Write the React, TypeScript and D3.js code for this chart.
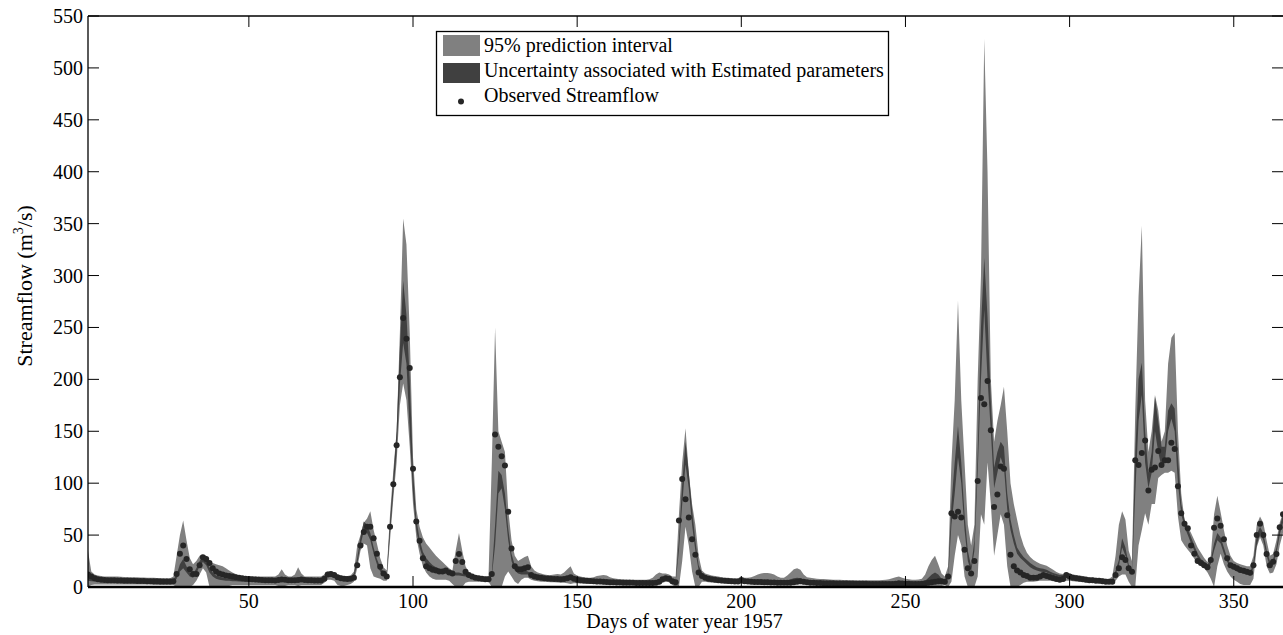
import React from 'react';
import * as d3 from 'd3';

// Day index of the water year
const days: number[] = d3.range(1, 366);

const xTicks = [50, 100, 150, 200, 250, 300, 350];
const yTicks = [0, 50, 100, 150, 200, 250, 300, 350, 400, 450, 500, 550];

const legendLabels = [
  '95% prediction interval',
  'Uncertainty associated with Estimated parameters',
  'Observed Streamflow',
];

// Observed streamflow (m3/s)
const observed = [
  12, 10, 8.5, 7.5, 7, 6.8, 6.6, 6.5, 6.4, 6.3,
  6.2, 6.1, 6, 6, 5.9, 5.8, 5.8, 5.7, 5.6, 5.6,
  5.5, 5.5, 5.4, 5.4, 5.3, 5.3, 5.5, 12.5, 32, 40,
  27, 17, 12.5, 12.5, 21, 28.6, 27, 23, 18, 15,
  13, 12, 11, 10.5, 10, 9.5, 9, 8.5, 8, 7.8,
  7.5, 7.3, 7, 6.8, 6.6, 6.5, 6.4, 6.3, 6.8, 7.2,
  7, 6.6, 6.5, 6.4, 6.8, 7.2, 6.8, 6.5, 6.4, 6.3,
  6.2, 6.2, 8, 12, 12.5, 11.5, 9.5, 8.5, 8, 7.8,
  8, 9, 21, 40, 53, 58, 58, 47, 32, 19.6,
  13, 10, 58, 99, 136.5, 202, 259, 239, 211, 114,
  63, 44.6, 27.6, 20, 18, 16.6, 16, 15, 15, 16,
  14, 13, 25, 31.7, 24, 14.7, 11.5, 10, 9, 8.5,
  8, 7.5, 7.5, 12.5, 147, 135, 126, 117, 72.5, 37,
  20, 17, 17, 18, 19, 11.5, 10, 9.5, 9, 8.5,
  8.2, 8, 7.8, 7.6, 7.5, 7.8, 8.5, 9.5, 8, 7,
  6.6, 6.3, 6, 5.8, 5.6, 5.4, 5.2, 5, 4.8, 4.6,
  4.5, 4.4, 4.3, 4.2, 4.1, 4, 4, 3.9, 3.9, 3.8,
  3.8, 3.8, 3.8, 4, 5, 7.5, 8.5, 8, 5.5, 4.5,
  64, 104, 84.5, 67, 46, 31, 14, 10.5, 9, 8,
  7.5, 7, 6.6, 6.3, 6, 5.8, 5.6, 5.4, 5.3, 6.5,
  5.5, 5.2, 5, 4.9, 4.8, 4.7, 4.6, 4.5, 4.4, 4.3,
  4.2, 4.1, 4, 4, 4.2, 4.5, 5, 5.5, 5, 4.5,
  4.2, 4, 3.9, 3.8, 3.7, 3.6, 3.5, 3.5, 3.4, 3.4,
  3.3, 3.3, 3.2, 3.2, 3.2, 3.1, 3.1, 3.1, 3, 3,
  3, 3, 3, 3, 3, 3, 3.2, 3.5, 3.3, 3.2,
  3.1, 3, 3, 3, 3.2, 3.5, 4, 4.5, 5, 5.5,
  5.5, 5, 10, 71, 68, 72.5, 67, 36, 18, 13,
  25, 102, 182, 176, 198.5, 151, 77, 89, 116, 114,
  69, 31, 20, 16, 14, 11.5, 10.6, 9, 9, 9,
  10, 11.5, 10.6, 9.6, 8.7, 7.7, 7, 7.7, 11.5, 10,
  9, 8.5, 8, 7.5, 7, 6.5, 6.5, 6, 6, 5.5,
  5, 5, 5, 11.5, 18, 28.6, 26, 18, 14.7, 122,
  117.5, 129, 141, 93, 113, 115, 131, 117.5, 122, 122,
  139, 133, 97, 71, 61, 56.5, 40, 32, 25, 23,
  21, 19, 26, 57, 66, 59, 46, 27.6, 21, 19.6,
  18, 16.4, 15.7, 14.7, 13.8, 21, 50, 61, 50, 31.8,
  21, 24.4, 31.8, 57.5, 70,
];

// Uncertainty associated with estimated parameters: lower bound
const paramLower = [
  6, 5.5, 5.2, 5, 4.9, 4.9, 4.8, 4.8, 4.8, 4.8,
  4.8, 4.7, 4.7, 4.7, 4.6, 4.6, 4.6, 4.5, 4.5, 4.5,
  4.5, 4.5, 4.4, 4.4, 4.4, 4.4, 4.5, 8, 15, 18,
  14, 10, 9, 13, 20, 24, 21, 14, 10, 8,
  7, 6.5, 6, 6, 5.5, 5.5, 5.2, 5, 5, 5,
  5, 5, 5, 5, 5, 5, 5, 5, 5.5, 5.5,
  5.5, 5, 5, 5, 5.5, 5.5, 5.5, 5, 5, 5,
  5, 5, 7, 10, 10, 9, 7, 6, 6, 6,
  7, 9, 22, 40, 54, 52, 45, 32, 22, 15,
  12, 11, 52, 92, 130, 195, 235, 215, 150, 90,
  55, 38, 28, 22, 19, 17, 15.5, 14.5, 13.5, 13,
  12, 11.5, 11, 11, 10.5, 10, 9.5, 9, 8.5, 8,
  7.5, 7.5, 7.5, 10, 40, 90, 95, 75, 45, 25,
  16, 13, 12, 12, 12, 10, 9.5, 9, 8.5, 8,
  7.5, 7.3, 7, 7, 7, 7.2, 7.5, 8, 7, 6.5,
  5.8, 5.5, 5.3, 5.1, 4.9, 4.7, 4.5, 4.4, 4.2, 4,
  3.9, 3.8, 3.7, 3.6, 3.5, 3.4, 3.4, 3.3, 3.3, 3.2,
  3.2, 3.2, 3.2, 3.5, 4.5, 6.5, 7.5, 7, 5, 4,
  35, 80, 118, 95, 60, 35, 16, 10, 8.5, 7.5,
  7, 6.6, 6.2, 5.9, 5.6, 5.4, 5.2, 5, 4.9, 5.5,
  5, 4.7, 4.5, 4.4, 4.3, 4.2, 4.1, 4, 3.9, 3.8,
  3.7, 3.6, 3.6, 3.8, 4, 4.3, 4.5, 4.7, 4.4, 4,
  3.8, 3.6, 3.5, 3.4, 3.3, 3.2, 3.1, 3.1, 3, 3,
  2.9, 2.9, 2.8, 2.8, 2.8, 2.7, 2.7, 2.7, 2.6, 2.6,
  2.6, 2.6, 2.6, 2.6, 2.6, 2.7, 2.9, 3.1, 3, 2.9,
  2.8, 2.7, 2.7, 2.7, 2.9, 3.3, 4.5, 6, 7, 6,
  5, 4.5, 8, 60, 90, 125, 100, 55, 25, 15,
  35, 110, 200, 267, 200, 150, 95, 110, 125, 115,
  75, 55, 42, 32, 28, 25, 22, 19, 17, 16,
  15, 14.5, 14, 12.5, 11.5, 10.5, 9.5, 9.5, 10, 9.5,
  8.5, 8, 7.6, 7.2, 6.8, 6.4, 6.2, 5.9, 5.7, 5.4,
  5, 4.9, 5, 12, 20, 38, 30, 18, 12, 90,
  160, 185, 120, 95, 110, 150, 130, 115, 120, 150,
  162, 150, 100, 70, 58, 50, 42, 35, 28, 24,
  21, 19, 22, 35, 45, 42, 32, 24, 19, 17,
  15, 14, 13, 12, 11, 18, 40, 52, 45, 30,
  20, 22, 32, 50, 62,
];

// Uncertainty associated with estimated parameters: upper bound
const paramUpper = [
  15, 10, 9, 8.5, 8, 8, 7.8, 7.6, 7.5, 7.4,
  7.2, 7.1, 7, 7, 6.9, 6.8, 6.8, 6.7, 6.6, 6.6,
  6.5, 6.5, 6.5, 6.5, 6.5, 6.5, 7, 12, 22, 27,
  20, 14, 12, 18, 25, 29, 26, 19, 14, 11,
  10, 9, 8.5, 8, 8, 7.5, 7.2, 7, 7, 7,
  7, 7, 7, 7, 7, 7, 7, 7, 8, 8,
  8, 7, 7, 7, 8, 8, 8, 7, 7, 7,
  7, 7, 10, 14, 14, 12, 10, 8.5, 8, 8,
  9.5, 13, 28, 48, 63, 60, 52, 38, 27, 19,
  15, 14, 62, 105, 150, 230, 295, 262, 200, 112,
  66, 46, 34, 28, 24, 21, 19, 17.5, 16.5, 15.5,
  14.5, 14, 14, 14, 13, 12.5, 12, 11, 10.5, 10,
  9.5, 9.5, 9.5, 14, 60, 112, 108, 90, 56, 32,
  21, 17, 16, 16, 15, 13, 12, 11.5, 11, 10.5,
  10, 9.8, 9.5, 9.3, 9.2, 9.6, 10, 11, 9.5, 8.8,
  7.6, 7.3, 7, 6.8, 6.6, 6.4, 6.2, 6.1, 5.9, 5.7,
  5.6, 5.5, 5.4, 5.3, 5.2, 5.1, 5, 5, 4.9, 4.9,
  4.8, 4.8, 4.9, 5.3, 6.5, 9, 10, 9.5, 7, 6,
  46, 100, 140, 110, 75, 45, 21, 13.5, 11, 9.5,
  9, 8.5, 8, 7.6, 7.3, 7, 6.8, 6.6, 6.5, 7.5,
  6.8, 6.4, 6.2, 6.2, 6.5, 6.8, 7, 7, 6.8, 6.3,
  5.8, 5.5, 5.6, 6.5, 7.5, 8.5, 9, 8.5, 7, 6,
  5.6, 5.4, 5.2, 5.1, 5, 4.9, 4.8, 4.7, 4.6, 4.6,
  4.5, 4.5, 4.4, 4.4, 4.4, 4.3, 4.3, 4.3, 4.2, 4.2,
  4.2, 4.2, 4.2, 4.2, 4.2, 4.4, 4.8, 5, 4.8, 4.6,
  4.5, 4.4, 4.4, 4.4, 4.8, 6, 9, 12, 14, 12,
  8, 7.5, 12, 80, 120, 155, 120, 70, 35, 20,
  45, 130, 250, 317, 260, 180, 115, 130, 140, 135,
  90, 65, 50, 38, 33, 29, 26, 23, 21, 19,
  18, 17.5, 16.5, 15, 13.5, 12.5, 11.5, 11.5, 12.5, 11.5,
  10.5, 10, 9.5, 9, 8.6, 8.2, 8, 7.6, 7.4, 7.1,
  6.8, 6.6, 7, 16, 26, 47, 38, 22, 15, 130,
  200, 216, 150, 110, 130, 183, 160, 135, 135, 170,
  177, 172, 125, 80, 65, 56, 48, 40, 32, 27,
  24, 22, 26, 42, 52, 48, 38, 28, 22, 20,
  18, 17, 16, 15, 14, 24, 50, 58, 52, 36,
  25, 27, 38, 58, 70,
];

// 95% prediction interval: lower bound
const predLower = [
  0, 2, 2.5, 2.5, 2.5, 2.5, 2.5, 2.5, 2.5, 2.5,
  2.5, 2.5, 2.5, 2.5, 2.5, 2.5, 2.5, 2.5, 2.5, 2.5,
  2, 2, 2, 2, 2, 2, 2, 0, 0, 0,
  0, 0, 2, 6, 12, 18, 14, 0, 0, 0,
  0, 0, 0, 1, 2, 2, 2, 2, 2, 2,
  2, 2, 2, 2, 2, 2, 2, 2, 1, 0,
  1, 2, 2, 2, 1, 2, 2, 2, 2, 2,
  2, 2, 4, 7, 7, 6, 2, 1, 1, 2,
  3, 5, 18, 35, 42, 40, 18, 10, 9, 8,
  6, 6, 45, 85, 120, 175, 196, 180, 135, 80,
  48, 32, 20, 14, 10, 8, 7, 7, 7, 7,
  6, 3, 0, 0, 0, 4, 5, 5, 5, 5,
  5, 5, 5, 0, 0, 0, 0, 10, 15, 10,
  5, 3, 7, 9, 9, 7, 6, 5.5, 5, 5,
  4.8, 4.6, 4.5, 4.3, 4, 4, 3.5, 3, 3.5, 3.5,
  3.3, 3.1, 3, 2.9, 2.8, 2.7, 2.6, 2.5, 2.4, 2.3,
  2.2, 2.1, 2, 2, 2, 2, 2, 2, 2, 2,
  2, 2, 2, 2, 2.5, 4, 5, 4.5, 2, 0,
  0, 25, 58, 40, 15, 0, 0, 5, 5, 4.5,
  4.3, 4, 3.8, 3.6, 3.4, 3.2, 3.1, 3, 3, 3.3,
  3, 2.8, 2.7, 2.6, 2.5, 2.4, 2.3, 2.3, 2.2, 2.2,
  2.1, 2, 2, 2.1, 2.2, 2.4, 2.6, 2.7, 2.5, 2.3,
  2.2, 2.1, 2, 2, 1.9, 1.9, 1.8, 1.8, 1.8, 1.7,
  1.7, 1.7, 1.6, 1.6, 1.6, 1.6, 1.5, 1.5, 1.5, 1.5,
  1.5, 1.5, 1.5, 1.5, 1.5, 1.5, 1.6, 1.8, 1.7, 1.6,
  1.5, 1.5, 1.5, 1.5, 1.5, 0, 0, 0, 0, 0,
  1, 2, 0, 5, 30, 50, 40, 10, 0, 0,
  0, 10, 70, 60, 120, 80, 30, 50, 70, 60,
  20, 0, 0, 0, 2, 4, 5, 5, 5, 5.5,
  6, 6, 6, 6, 5.5, 5, 5, 5, 6, 6,
  5.5, 5.2, 5, 4.7, 4.4, 4.2, 4, 3.8, 3.6, 3.5,
  3.3, 3.2, 3, 6, 10, 12, 12, 5, 0, 0,
  40, 55, 71, 60, 80, 80, 105, 108, 110, 110,
  112, 110, 68, 45, 40, 36, 32, 27, 23, 20,
  18, 14, 8, 0, 20, 32, 22, 15, 10, 7,
  5, 3, 2, 2, 2, 8, 38, 48, 40, 20,
  13, 14, 22, 40, 52,
];

// 95% prediction interval: upper bound
const predUpper = [
  35, 15, 12, 11, 10.5, 10, 10, 10, 10, 10,
  9.8, 9.7, 9.6, 9.5, 9.4, 9.3, 9.2, 9.1, 9, 9,
  8.8, 8.7, 8.6, 8.5, 8.5, 8.5, 10, 30, 50, 64,
  45, 28, 22, 25, 30, 31, 30, 25, 23, 22,
  21, 20, 18, 16, 14, 12.5, 11, 10.5, 10, 10,
  10, 10, 10, 10, 10, 10, 10, 10, 12, 17,
  12, 10, 10, 12, 19, 13, 10, 10, 10, 10,
  10, 10, 12, 15, 15, 14, 12, 11, 10.5, 10.5,
  11, 15, 40, 50, 62, 66, 73, 55, 42, 28,
  19, 16, 70, 112, 150, 245, 355, 330, 245, 125,
  75, 58, 48, 42, 38, 34, 30, 27, 24, 21,
  18, 16, 35, 52, 35, 20, 14, 12, 11, 10,
  10, 10, 10.5, 120, 250, 150, 140, 130, 75, 45,
  30, 25, 27, 29, 30, 20, 16, 14, 13, 12,
  11.5, 11.5, 12, 12.5, 12, 14, 17, 20, 13, 11,
  10, 9.5, 9, 9, 9.5, 10.5, 11, 11.5, 11, 9.5,
  8.5, 8, 7.5, 7.4, 7.3, 7.2, 7.1, 7, 7, 7,
  7, 7.5, 9, 12, 14, 13, 13, 12, 10, 10,
  70, 120, 153, 110, 80, 60, 30, 16, 13, 12,
  11, 10.5, 10, 9.5, 9, 9, 8.5, 8.5, 8.5, 10,
  9, 9, 9.5, 10.5, 12, 13, 13.5, 13.5, 13, 12,
  10, 9, 9, 11, 14, 17, 18, 16.5, 12, 9.5,
  9, 8.5, 8, 7.8, 7.6, 7.4, 7.2, 7, 7, 7,
  6.8, 6.8, 6.7, 6.7, 6.6, 6.6, 6.5, 6.5, 6.5, 6.5,
  6.5, 6.5, 6.7, 7, 7.5, 8.5, 9.5, 10, 9, 8,
  7.5, 7, 7, 7.2, 8, 12, 20, 26, 30, 22,
  13, 10, 20, 120, 180, 276, 180, 120, 60, 40,
  60, 200, 300, 528, 400, 200, 140, 160, 175, 193,
  150, 100, 80, 65, 50, 40, 33, 29, 26, 24,
  22.5, 21.5, 20.5, 18.5, 16.5, 14.5, 13, 12.5, 14, 13,
  12, 11.5, 11, 10.5, 10, 9.5, 9.2, 9, 8.7, 8.4,
  8, 7.8, 10, 30, 60, 73, 65, 35, 25, 170,
  280, 348, 180, 130, 150, 185, 170, 140, 150, 215,
  240, 245, 150, 90, 65, 58, 52, 45, 38, 33,
  28, 24, 30, 70, 88, 72, 55, 40, 30, 25,
  23, 22, 21, 20, 20, 30, 60, 68, 62, 45,
  30, 32, 45, 62, 72,
];

const FONT = '"Liberation Serif", "Times New Roman", Times, serif';
const PRED_COLOR = '#808080';
const PARAM_COLOR = '#404040';
const DOT_COLOR = '#262626';

export default function App() {
  const W = 1283;
  const H = 635;
  const left = 88;
  const right = 1283;
  const top = 16;
  const bottom = 587;

  const x = d3.scaleLinear().domain([1, 365]).range([left, right]);
  const y = d3.scaleLinear().domain([0, 550]).range([bottom, top]);

  const bandPath = (lo: number[], hi: number[]) =>
    d3
      .area<number>()
      .x((_, i) => x(days[i]))
      .y0((_, i) => y(lo[i]))
      .y1((_, i) => y(hi[i]))(days) || '';

  const tickLen = 11;

  return (
    <div style={{ position: 'absolute', left: 0, top: 0 }}>
      <svg width={W} height={H} style={{ display: 'block', background: '#fff' }} fontFamily={FONT}>
        <defs>
          <clipPath id="plotClip">
            <rect x={left} y={top} width={right - left + 2} height={bottom - top} />
          </clipPath>
        </defs>
        <g clipPath="url(#plotClip)">
          <path d={bandPath(predLower, predUpper)} fill={PRED_COLOR} />
          <path d={bandPath(paramLower, paramUpper)} fill={PARAM_COLOR} />
          {days.map((d, i) => (
            <circle key={d} cx={x(d)} cy={y(observed[i])} r={3} fill={DOT_COLOR} />
          ))}
        </g>

        {/* frame */}
        <line x1={left} x2={left} y1={top} y2={bottom} stroke="#000" strokeWidth={1.3} />
        <line x1={left} x2={W} y1={top} y2={top} stroke="#000" strokeWidth={1.3} />
        <line x1={left} x2={W} y1={bottom} y2={bottom} stroke="#000" strokeWidth={2.6} />

        {/* x ticks */}
        {xTicks.map((t) => (
          <g key={`xt${t}`}>
            <line x1={x(t)} x2={x(t)} y1={bottom} y2={bottom - tickLen} stroke="#000" strokeWidth={1} />
            <line x1={x(t)} x2={x(t)} y1={top} y2={top + tickLen} stroke="#000" strokeWidth={1} />
            <text x={x(t)} y={608} textAnchor="middle" fontSize={20} fill="#000">
              {t}
            </text>
          </g>
        ))}

        {/* y ticks */}
        {yTicks.map((t) => (
          <g key={`yt${t}`}>
            <line x1={left} x2={left + tickLen} y1={y(t)} y2={y(t)} stroke="#000" strokeWidth={1} />
            <line x1={right - tickLen} x2={W} y1={y(t)} y2={y(t)} stroke="#000" strokeWidth={1} />
            <text x={83} y={y(t) + 7} textAnchor="end" fontSize={20} fill="#000">
              {t}
            </text>
          </g>
        ))}

        {/* axis titles */}
        <text x={(left + right) / 2 - 1} y={628} textAnchor="middle" fontSize={20} fill="#000">
          Days of water year 1957
        </text>
        <text
          transform="translate(32,286) rotate(-90)"
          textAnchor="middle"
          fontSize={22}
          fill="#000"
        >
          Streamflow (m<tspan fontSize={14} dy={-9}>3</tspan>
          <tspan dy={9}>/s)</tspan>
        </text>

        {/* legend */}
        <g>
          <rect x={436.5} y={31.5} width={452} height={84} fill="#fff" stroke="#000" strokeWidth={1.3} />
          <rect x={443} y={35} width={37} height={21} fill={PRED_COLOR} />
          <rect x={443} y={63} width={37} height={20} fill={PARAM_COLOR} />
          <circle cx={461} cy={101.5} r={3} fill={DOT_COLOR} />
          {legendLabels.map((lab, i) => (
            <text key={lab} x={484} y={52 + i * 25} fontSize={20} fill="#000">
              {lab}
            </text>
          ))}
        </g>
      </svg>
    </div>
  );
}
